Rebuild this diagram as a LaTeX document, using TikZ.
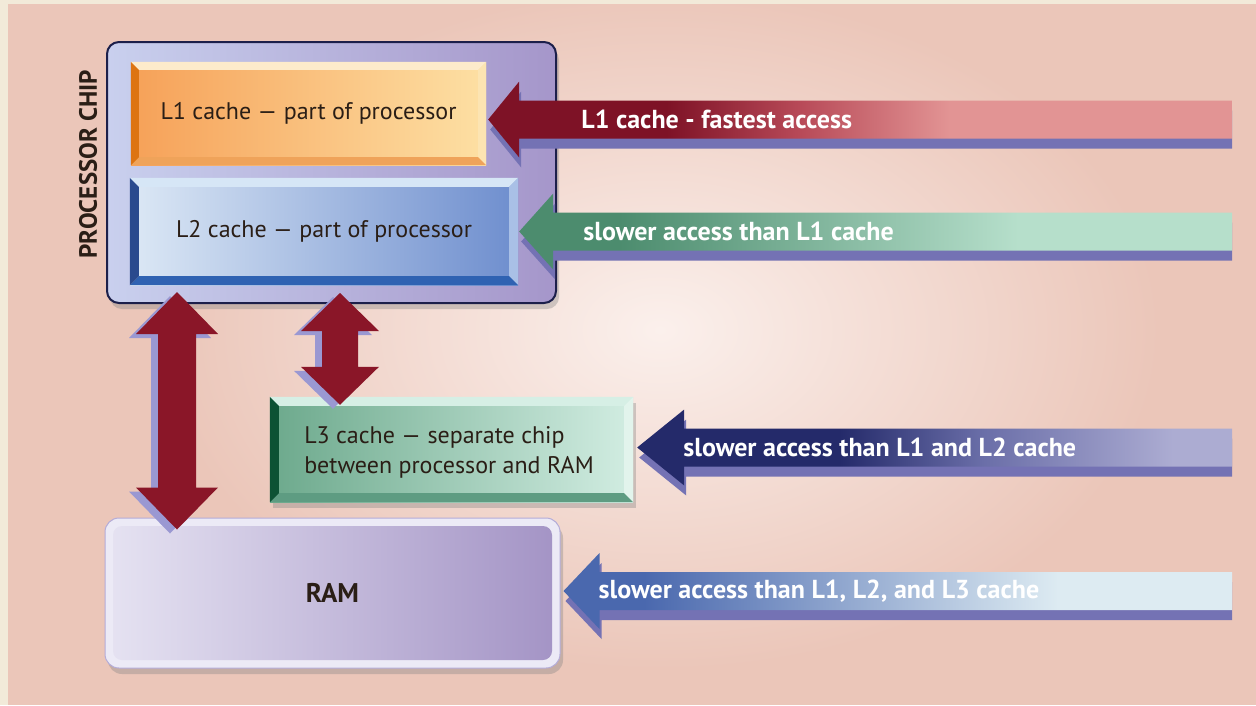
\documentclass[tikz,border=0pt]{standalone}
\usepackage{fontspec}
\setmainfont{PT Sans}
\usetikzlibrary{calc,shadows}
\definecolor{cream}{HTML}{F2EAD9}
\definecolor{pinkbg}{HTML}{EBC6B9}
\definecolor{glow}{HTML}{FBF0EC}
\definecolor{chipL}{HTML}{C9D0EE}
\definecolor{chipR}{HTML}{A596CA}
\definecolor{chipline}{HTML}{1C1F4A}
\definecolor{txt}{HTML}{2A1E16}
\definecolor{l1L}{HTML}{F6A158}
\definecolor{l1R}{HTML}{FDE0A4}
\definecolor{l1T}{HTML}{FDEBCB}
\definecolor{l1Rt}{HTML}{FCE4B2}
\definecolor{l1B}{HTML}{EFA35A}
\definecolor{l1Lf}{HTML}{DD7412}
\definecolor{l2L}{HTML}{DCE8F5}
\definecolor{l2R}{HTML}{6E8ECE}
\definecolor{l2T}{HTML}{D6E6F6}
\definecolor{l2Rt}{HTML}{A9C0E6}
\definecolor{l2B}{HTML}{2F62B2}
\definecolor{l2Lf}{HTML}{2A4A8E}
\definecolor{l3L}{HTML}{6CA98C}
\definecolor{l3R}{HTML}{D2EDE2}
\definecolor{l3T}{HTML}{D6EFE5}
\definecolor{l3Rt}{HTML}{E2F4EC}
\definecolor{l3B}{HTML}{5E9C82}
\definecolor{l3Lf}{HTML}{0C5234}
\definecolor{ramE}{HTML}{ECEAF6}
\definecolor{ramline}{HTML}{B4ACD8}
\definecolor{ramL}{HTML}{E6E3F2}
\definecolor{ramR}{HTML}{A393C5}
\definecolor{arrred}{HTML}{8A1628}
\definecolor{lav}{HTML}{9A98D2}
\definecolor{strip}{HTML}{7472B4}
\definecolor{aAd}{HTML}{7E1226}
\definecolor{aAm}{HTML}{B84A58}
\definecolor{aAl}{HTML}{E29494}
\definecolor{aBd}{HTML}{4C8C6E}
\definecolor{aBl}{HTML}{B6DFCB}
\definecolor{aCd}{HTML}{242A6A}
\definecolor{aCm}{HTML}{6A6EA8}
\definecolor{aCl}{HTML}{ACACD2}
\definecolor{aDd}{HTML}{4A68AE}
\definecolor{aDl}{HTML}{DDEBF2}
\pgfdeclarehorizontalshading{shA}{100bp}{color(0bp)=(aAd); color(37bp)=(aAd); color(46bp)=(aAm); color(56bp)=(aAl); color(100bp)=(aAl)}
\pgfdeclarehorizontalshading{shB}{100bp}{color(0bp)=(aBd); color(32bp)=(aBd); color(60bp)=(aBl); color(100bp)=(aBl)}
\pgfdeclarehorizontalshading{shC}{100bp}{color(0bp)=(aCd); color(42bp)=(aCd); color(54bp)=(aCm); color(70bp)=(aCl); color(100bp)=(aCl)}
\pgfdeclarehorizontalshading{shD}{100bp}{color(0bp)=(aDd); color(31bp)=(aDd); color(62bp)=(aDl); color(100bp)=(aDl)}
% horizontal block arrow: tip, end, head length, head half width, shaft half width
\newcommand\harr[5]{(#1) -- ($(#1)+(#3,-#4)$) -- ($(#1)+(#3,-#5)$) -- ($(#2)+(0,-#5)$) -- ($(#2)+(0,#5)$) -- ($(#1)+(#3,#5)$) -- ($(#1)+(#3,#4)$) -- cycle}
% vertical double block arrow: top tip, bottom tip, head half width, shaft half width, head length
\newcommand\vdarr[5]{(#1) -- ($(#1)+(#3,#5)$) -- ($(#1)+(#4,#5)$) -- ($(#2)+(#4,-#5)$) -- ($(#2)+(#3,-#5)$) -- (#2) -- ($(#2)+(-#3,-#5)$) -- ($(#2)+(-#4,-#5)$) -- ($(#1)+(-#4,#5)$) -- ($(#1)+(-#3,#5)$) -- cycle}
\newcommand\bevel[6]{%
 \fill[#3] (#1.north west) -- (#1.north east) -- ($(#1.north east)+(-#2,#2)$) -- ($(#1.north west)+(#2,#2)$) -- cycle;
 \fill[#4] (#1.north east) -- (#1.south east) -- ($(#1.south east)+(-#2,-#2)$) -- ($(#1.north east)+(-#2,#2)$) -- cycle;
 \fill[#5] (#1.south east) -- (#1.south west) -- ($(#1.south west)+(#2,-#2)$) -- ($(#1.south east)+(-#2,-#2)$) -- cycle;
 \fill[#6] (#1.south west) -- (#1.north west) -- ($(#1.north west)+(#2,#2)$) -- ($(#1.south west)+(#2,-#2)$) -- cycle;}
\tikzset{
 bx/.style={rectangle, inner sep=0pt, text=txt, font=\fontsize{24}{30}\selectfont},
 wlab/.style={anchor=west, text=white, inner sep=0pt, font=\bfseries\fontsize{26}{30}\selectfont},
 dblshadow/.style={transform canvas={xshift=-7pt, yshift=-4pt}},
 hshadow/.style={transform canvas={xshift=2pt, yshift=-10pt}},
 boxshadow/.style={drop shadow={opacity=.35, shadow xshift=3pt, shadow yshift=-6pt}}
}
\begin{document}
\begin{tikzpicture}[x=1pt,y=-1pt]
\useasboundingbox (0,0) rectangle (1256,705);
% background
\fill[cream] (0,0) rectangle (1256,705);
\fill[pinkbg] (8,4) rectangle (1256,705);
\begin{scope}
\clip (8,4) rectangle (1256,705);
\shade[inner color=glow, outer color=pinkbg] (660,330) ellipse [x radius=500, y radius=340];
\end{scope}
% processor chip
\node[draw=chipline, line width=2pt, rounded corners=12pt, left color=chipL, right color=chipR,
 minimum width=449pt, minimum height=261pt, boxshadow] (chip) at (331.5,172.5) {};
\node[rotate=90, text=txt, font=\bfseries\fontsize{25}{28}\selectfont] (pclab) at (88,164) {PROCESSOR CHIP};
% L1
\node[bx, left color=l1L, right color=l1R, minimum width=355pt, minimum height=103pt] (l1) at (308.5,113.5) {L1 cache — part of processor};
\bevel{l1}{8}{l1T}{l1Rt}{l1B}{l1Lf}
% L2
\node[bx, left color=l2L, right color=l2R, minimum width=388pt, minimum height=107pt] (l2) at (324,231.5) {L2 cache — part of processor};
\bevel{l2}{9}{l2T}{l2Rt}{l2B}{l2Lf}
% L3
\node[bx, left color=l3L, right color=l3R, minimum width=363pt, minimum height=105pt, boxshadow] (l3) at (451.5,449.5) {};
\bevel{l3}{9}{l3T}{l3Rt}{l3B}{l3Lf}
\node[bx, align=left] (l3t) at (449,452) {L3 cache — separate chip\\between processor and RAM};
% RAM
\node[rectangle, rounded corners=14pt, fill=ramE, draw=ramline, line width=1pt, minimum width=455pt, minimum height=150pt, boxshadow,
 inner sep=0pt, text=txt, font=\bfseries\fontsize{27}{30}\selectfont,
 path picture={\shade[left color=ramL, right color=ramR, rounded corners=9pt]
   ($(path picture bounding box.north west)+(8,8)$) rectangle ($(path picture bounding box.south east)+(-8,-8)$);}]
 (ram) at (332.5,593) {RAM};
% vertical double arrows
\coordinate (v1x) at (177,0);
\coordinate (v2x) at (340,0);
\coordinate (v1t) at ($(chip.south -| v1x)+(0,-12)$);
\coordinate (v1b) at ($(ram.north -| v1x)+(0,12)$);
\coordinate (v2t) at ($(chip.south -| v2x)+(0,-11)$);
\coordinate (v2b) at ($(l3.north -| v2x)+(0,8)$);
\begin{scope}[dblshadow]
\fill[lav] \vdarr{v1t}{v1b}{41}{19}{42};
\fill[lav] \vdarr{v2t}{v2b}{39}{18}{38};
\end{scope}
\fill[arrred] \vdarr{v1t}{v1b}{41}{19}{42};
\fill[arrred] \vdarr{v2t}{v2b}{39}{18}{38};
% horizontal access arrows
\coordinate (xend) at (1232,0);
\coordinate (a1t) at ($(l1.east)+(2,6)$);
\coordinate (a1e) at (a1t -| xend);
\coordinate (a2t) at ($(l2.east)+(1,0)$);
\coordinate (a2e) at (a2t -| xend);
\coordinate (a3t) at ($(l3.east)+(4,-2)$);
\coordinate (a3e) at (a3t -| xend);
\coordinate (a4t) at ($(ram.east)+(3,-2)$);
\coordinate (a4e) at (a4t -| xend);
\coordinate (xend2) at (1230,0);
\coordinate (b1e) at (a1t -| xend2);
\coordinate (b2e) at (a2t -| xend2);
\coordinate (b3e) at (a3t -| xend2);
\coordinate (b4e) at (a4t -| xend2);
\begin{scope}[hshadow]
\fill[strip] \harr{a1t}{b1e}{31}{38}{19};
\fill[strip] \harr{a2t}{b2e}{34}{38}{19};
\fill[strip] \harr{a3t}{b3e}{47}{38}{19};
\fill[strip] \harr{a4t}{b4e}{36}{38}{19};
\end{scope}
\shade[shading=shA] \harr{a1t}{a1e}{31}{38}{19};
\shade[shading=shB] \harr{a2t}{a2e}{34}{38}{19};
\shade[shading=shC] \harr{a3t}{a3e}{47}{38}{19};
\shade[shading=shD] \harr{a4t}{a4e}{36}{38}{19};
\node[wlab] (a1lab) at ($(a1t)+(93,0)$) {L1 cache - fastest access};
\node[wlab] (a2lab) at ($(a2t)+(64,0)$) {slower access than L1 cache};
\node[wlab] (a3lab) at ($(a3t)+(46,0)$) {slower access than L1 and L2 cache};
\node[wlab] (a4lab) at ($(a4t)+(35,0)$) {slower access than L1, L2, and L3 cache};
\end{tikzpicture}
\end{document}
